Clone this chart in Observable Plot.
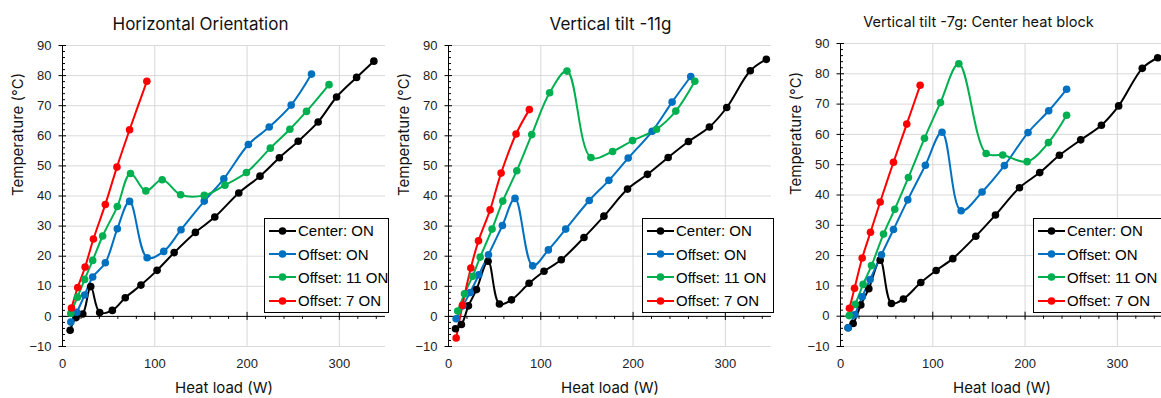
<!DOCTYPE html>
<html><head><meta charset="utf-8">
<script src="https://cdn.jsdelivr.net/npm/d3@7"></script>
<script src="https://cdn.jsdelivr.net/npm/@observablehq/plot@0.6"></script>
<style>
body{margin:0;width:1161px;height:398px;overflow:hidden;background:#fff;position:relative;font-family:"Liberation Sans",Arial,sans-serif}
.panel{position:absolute;top:0;width:390px;height:398px}
.panel svg{max-width:none !important}
.legend{position:absolute;background:#fff;border:1px solid #000;box-sizing:border-box;font-family:"Liberation Sans",Arial,sans-serif;font-size:15px;color:#000}
.row{height:23.4px;display:flex;align-items:center;white-space:nowrap}
.row svg{flex:none}
</style></head><body>
<div id="p1" class="panel" style="left:0px"></div>
<div id="p2" class="panel" style="left:386px"></div>
<div id="p3" class="panel" style="left:778px"></div>
<script>
const seriesNames = ["Center: ON", "Offset: ON", "Offset: 11 ON", "Offset: 7 ON"];
const seriesColors = ["#000000", "#0070C0", "#00B050", "#FF0000"];
const titles = ["Horizontal Orientation", "Vertical tilt -11g", "Vertical tilt -7g: Center heat block"];
const xTicks = [0, 100, 200, 300];
const yTicks = [-10, 0, 10, 20, 30, 40, 50, 60, 70, 80, 90];

// Panel 1: Horizontal Orientation
const h_center_x = [8.3,14.7,22,30.6,40.3,54,68,85,102.5,121,144,165,191,214,235,255.4,277,297,318.7,337.4];
const h_center_y = [-4.6,-0.4,0.8,9.9,1.3,2.0,6.2,10.4,15.3,21.2,27.9,33.0,41.0,46.6,52.7,58.2,64.6,72.9,79.4,84.8];
const h_offset_x = [9,15.5,24,32.7,46.4,59.4,72.7,91.7,109.7,128.4,153.6,174.8,201.4,224,247.8,269.8];
const h_offset_y = [-1.9,1.4,7.1,13.1,17.8,29.1,38.2,19.5,21.6,28.8,38.3,45.7,57.1,62.9,70.2,80.5];
const h_off11_x = [9,16.2,24,32.7,43.5,59.4,73.7,90.3,108,128,153.6,176,199.3,225.2,246.4,264.4,288.8];
const h_off11_y = [1.0,6.4,12.3,18.6,26.7,36.5,47.5,41.7,45.4,40.4,40.2,43.6,47.8,55.9,62.2,68.1,77.0];
const h_off7_x = [9.7,16.5,24.5,33.5,46.4,59,72.7,91.4];
const h_off7_y = [2.8,9.6,16.4,25.7,37.2,49.6,62.0,78.1];

// Panel 2: Vertical tilt -11g
const v11_center_x = [7.6,14,21.6,30.3,42.9,55.2,68.2,87.3,103.5,122.2,146.8,168.4,194,215.6,238,260,282.7,301.5,327,344.4];
const v11_center_y = [-4.1,-2.7,3.5,8.9,18.3,4.1,5.5,11.0,15.0,18.8,26.2,33.3,42.3,47.2,52.8,58.1,62.9,69.4,81.6,85.4];
const v11_offset_x = [8.3,15.5,23.4,32.8,43.3,58.4,72.1,91.2,108.2,127,152.5,173.8,194.7,220.7,242.3,262.5];
const v11_offset_y = [-0.8,3.5,7.9,13.8,20.5,30.2,39.2,16.8,22.1,29.0,38.5,45.2,52.6,61.5,71.2,79.7];
const v11_off11_x = [10,17.3,26,34.3,47.2,58.8,74,90.2,109.6,128.4,154.3,177.8,199.4,225.4,246.3,266.9];
const v11_off11_y = [1.8,7.5,13.3,19.7,29.0,38.3,48.4,60.4,74.3,81.5,52.8,54.8,58.4,62.2,68.2,78.1];
const v11_off7_x = [8.3,15.1,24.2,32.5,45.1,57,73.2,87.6];
const v11_off7_y = [-7.2,3.7,16.1,25.1,35.4,47.6,60.6,68.7];

// Panel 3: Vertical tilt -7g: Center heat block
const v7_center_x = [8.3,13.7,22,30.7,43,55.2,68.2,87,103.6,121.7,146.6,167.9,193.9,215.9,237.2,260.3,282.7,301.4,327,343.7];
const v7_center_y = [-3.8,-2.4,3.7,9.1,18.5,4.2,5.7,11.1,15.1,19.0,26.4,33.4,42.4,47.4,53.1,58.2,63.0,69.4,81.8,85.3];
const v7_offset_x = [8.3,15.5,23.5,32.1,44.4,57.4,72.9,92,110,130.7,153.4,177.6,203.2,225.6,245];
const v7_offset_y = [-3.8,0.5,6.4,12.1,20.3,28.6,38.4,49.8,60.7,34.8,41.0,49.7,60.6,67.8,74.9];
const v7_off11_x = [9.4,15.9,24.5,33.6,46.6,58.8,73.6,91,108.3,128.2,157.8,175.8,202.2,225.3,245];
const v7_off11_y = [0.2,3.9,10.5,16.7,27.1,35.3,45.8,58.7,70.5,83.3,53.7,53.2,51.0,57.3,66.3];
const v7_off7_x = [9.7,15.2,23.5,32.5,43,57.4,71.8,86.3];
const v7_off7_y = [2.6,9.2,19.2,27.7,37.7,50.8,63.4,76.2];

const panels = [
  {id:"p1", title:titles[0], mTop:45, titleX:200, titleY:17, titleSize:17, legendLeft:264, legendWidth:125,
   xs:[h_center_x,h_offset_x,h_off11_x,h_off7_x], ys:[h_center_y,h_offset_y,h_off11_y,h_off7_y]},
  {id:"p2", title:titles[1], mTop:45, titleX:224, titleY:17, titleSize:17, legendLeft:256, legendWidth:132,
   xs:[v11_center_x,v11_offset_x,v11_off11_x,v11_off7_x], ys:[v11_center_y,v11_offset_y,v11_off11_y,v11_off7_y]},
  {id:"p3", title:titles[2], mTop:43, titleX:200, titleY:16, titleSize:14.6, legendLeft:255, legendWidth:136,
   xs:[v7_center_x,v7_offset_x,v7_off11_x,v7_off7_x], ys:[v7_center_y,v7_offset_y,v7_off11_y,v7_off7_y]}
];

const W = 390, H = 398, ML = 62, MR = 5, MB = 52;
const xMinor = d3.range(20, 351, 20).filter(v => v % 100 !== 0);
const yMinor = d3.range(-10, 91, 2).filter(v => v % 10 !== 0);
const pxPerW = (W - ML - MR) / 350;
const titleFont = "Inter, 'Noto Sans', sans-serif";

for (const p of panels) {
  const data = [];
  p.xs.forEach((xa, i) => xa.forEach((x, j) => data.push({x, y: p.ys[i][j], series: seriesNames[i]})));
  const pxPerC = (H - p.mTop - MB) / 100;
  const chart = Plot.plot({
    width: W, height: H, marginLeft: ML, marginRight: MR, marginTop: p.mTop, marginBottom: MB,
    x: {domain: [0, 350]},
    y: {domain: [-10, 90]},
    color: {domain: seriesNames, range: seriesColors},
    style: {fontFamily: '"Liberation Sans", Arial, sans-serif', fontSize: "13px", color: "#222", background: "transparent", overflow: "visible", maxWidth: "none"},
    marks: [
      Plot.gridY({ticks: yTicks, stroke: "#d9d9d9", strokeOpacity: 1}),
      Plot.gridX({ticks: xTicks.filter(v => v > 0), stroke: "#d9d9d9", strokeOpacity: 1}),
      Plot.ruleX([0], {y1: -10, y2: 90, stroke: "#000"}),
      Plot.ruleY([0], {x1: 0, x2: 350, stroke: "#000"}),
      Plot.ruleY(yTicks, {y: d => d, x1: -3.5 / pxPerW, x2: 4 / pxPerW, stroke: "#000"}),
      Plot.ruleY(yMinor, {y: d => d, x1: 0, x2: 3 / pxPerW, stroke: "#000"}),
      Plot.ruleX(xTicks.filter(v => v > 0), {x: d => d, y1: -4 / pxPerC, y2: 4 / pxPerC, stroke: "#000"}),
      Plot.ruleX(xMinor, {x: d => d, y1: -3 / pxPerC, y2: 0, stroke: "#000"}),
      Plot.axisY({ticks: yTicks, tickSize: 0, tickPadding: 11, label: null, fontSize: 13}),
      Plot.axisX({ticks: xTicks, tickSize: 0, tickPadding: 12, label: null, fontSize: 13}),
      Plot.line(data, {x: "x", y: "y", z: "series", stroke: "series", curve: "catmull-rom", strokeWidth: 2}),
      Plot.dot(data, {x: "x", y: "y", fill: "series", r: 3.8}),
      Plot.text([p.title], {frameAnchor: "top-left", dx: p.titleX - ML, dy: p.titleY - p.mTop, textAnchor: "middle", fontSize: p.titleSize, fontFamily: titleFont, fill: "#111"}),
      Plot.text(["Heat load (W)"], {frameAnchor: "bottom", dy: 46, fontSize: 15, fontFamily: titleFont, fill: "#111"}),
      Plot.text(["Temperature (°C)"], {frameAnchor: "left", dx: -44, rotate: -90, fontSize: 15, fontFamily: titleFont, fill: "#111"})
    ]
  });
  const el = document.getElementById(p.id);
  el.appendChild(chart);
  // legend
  const lg = document.createElement("div");
  lg.className = "legend";
  lg.style.left = p.legendLeft + "px";
  lg.style.top = "218px";
  lg.style.width = p.legendWidth + "px";
  lg.style.height = "95px";
  seriesNames.forEach((n, i) => {
    const row = document.createElement("div");
    row.className = "row";
    row.innerHTML = `<svg width="30" height="12" style="margin-left:3px"><line x1="1" x2="28" y1="6" y2="6" stroke="${seriesColors[i]}" stroke-width="2"/><circle cx="14.5" cy="6" r="3.8" fill="${seriesColors[i]}"/></svg><span>${n}</span>`;
    lg.appendChild(row);
  });
  el.appendChild(lg);
}
</script>
</body></html>
